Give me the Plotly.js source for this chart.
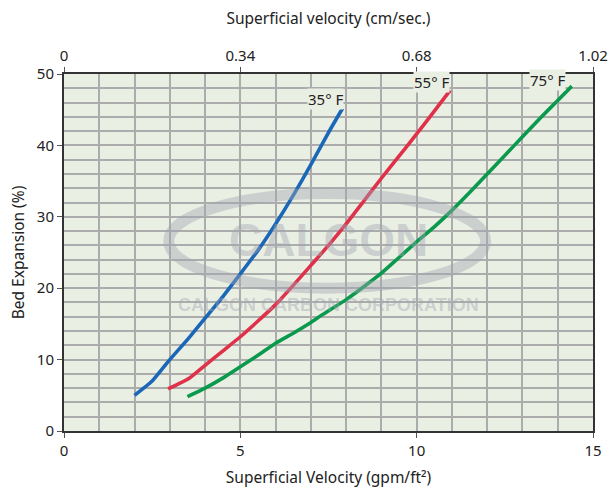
<!DOCTYPE html>
<html>
<head>
<meta charset="utf-8">
<script src="https://cdn.plot.ly/plotly-3.0.1.min.js"></script>
<style>html,body{margin:0;padding:0;background:#fff}#chart{width:608px;height:488px}</style>
</head>
<body>
<div id="chart"></div>
<script>
// Data
const blueX = [2.0, 2.5, 3.0, 3.5, 4.0, 4.5, 5.0, 5.5, 6.0, 6.5, 7.0, 7.5, 7.9];
const blueY = [5.0, 7.0, 10.0, 12.8, 15.8, 18.8, 22.0, 25.3, 29.0, 33.0, 37.3, 41.8, 45.2];
const redX = [2.95, 3.55, 4.0, 4.5, 5.0, 5.5, 6.0, 6.5, 7.0, 7.5, 8.0, 8.5, 9.0, 9.5, 10.0, 10.5, 10.95];
const redY = [5.9, 7.4, 9.2, 11.2, 13.2, 15.4, 17.7, 20.4, 23.2, 26.0, 29.0, 32.2, 35.4, 38.5, 41.6, 44.8, 47.7];
const greenX = [3.5, 4.0, 4.5, 5.0, 5.5, 6.0, 6.5, 7.0, 7.3, 8.0, 8.5, 9.0, 9.5, 10.0, 10.5, 11.0, 11.5, 12.0, 12.5, 13.0, 13.5, 14.0, 14.4];
const greenY = [4.8, 6.0, 7.4, 9.0, 10.6, 12.3, 13.7, 15.2, 16.2, 18.4, 20.2, 22.1, 24.3, 26.5, 28.6, 30.9, 33.4, 36.0, 38.6, 41.2, 43.8, 46.3, 48.3];
const seriesNames = ["35° F", "55° F", "75° F"];
const labelX = [7.42, 10.42, 13.72];
const labelY = [46.5, 48.9, 49.2];
const bottomTicks = [0, 5, 10, 15];
const topTicks = [0, 0.34, 0.68, 1.02];
const topTickText = ["0", "0.34", "0.68", "1.02"];
const yTicks = [0, 10, 20, 30, 40, 50];

const colors = ["#1b67b7", "#e0314a", "#0b9a4d"];
const font = "Noto Sans, Open Sans, sans-serif";
const bg = "#eaefe4";
const grid = "#acacac";
const wm = "rgba(160,165,178,0.42)";

const traces = [
  {x: blueX, y: blueY, color: colors[0], name: seriesNames[0]},
  {x: redX, y: redY, color: colors[1], name: seriesNames[1]},
  {x: greenX, y: greenY, color: colors[2], name: seriesNames[2]}
].map(s => ({
  type: "scatter", mode: "lines", x: s.x, y: s.y, name: s.name,
  line: {color: s.color, width: 3.6, shape: "spline", smoothing: 0.5},
  xaxis: "x", yaxis: "y", hoverinfo: "skip"
}));
// invisible trace so the top axis exists
traces.push({type: "scatter", mode: "markers", x: [0, 1.02], y: [0, 0], xaxis: "x2", yaxis: "y",
  marker: {opacity: 0}, hoverinfo: "skip", showlegend: false});

const annotations = seriesNames.map((t, i) => ({
  x: labelX[i], y: labelY[i], xref: "x", yref: "y", text: t, showarrow: false,
  font: {family: font, size: 15, color: "#222"}, bgcolor: bg, borderpad: 0
}));
annotations.push({
  x: 0.5, y: 0.535, xref: "paper", yref: "paper", text: "<b>CALGON</b>", showarrow: false,
  font: {family: "Liberation Sans, Arial, sans-serif", size: 46, color: wm}
});
annotations.push({
  x: 0.5, y: 0.353, xref: "paper", yref: "paper", text: "<b>CALGON CARBON CORPORATION</b>", showarrow: false,
  font: {family: "Liberation Sans, Arial, sans-serif", size: 18, color: wm}
});

const tickFont = {family: font, size: 15, color: "#222"};
const titleFont = {family: font, size: 15.5, color: "#222"};

const layout = {
  width: 608, height: 488,
  margin: {l: 64, r: 15, t: 74, b: 57},
  paper_bgcolor: "#ffffff", plot_bgcolor: bg,
  showlegend: false,
  xaxis: {
    range: [0, 15], tickvals: bottomTicks, ticks: "outside", ticklen: 5, tickcolor: "#555",
    showgrid: true, gridcolor: grid, gridwidth: 2,
    minor: {dtick: 1, showgrid: true, gridcolor: grid, gridwidth: 2},
    showline: true, linecolor: "#333", linewidth: 2, mirror: true, zeroline: false,
    tickfont: tickFont,
    title: {text: "Superficial Velocity (gpm/ft²)", font: titleFont, standoff: 20}
  },
  xaxis2: {
    overlaying: "x", side: "top", range: [0, 1.02], tickvals: topTicks, ticktext: topTickText,
    ticks: "outside", ticklen: 5, tickcolor: "#555", showgrid: false, zeroline: false,
    showline: true, linecolor: "#333", linewidth: 2,
    tickfont: tickFont,
    title: {text: "Superficial velocity (cm/sec.)", font: titleFont, standoff: 17}
  },
  yaxis: {
    range: [0, 50], tickvals: yTicks, ticks: "outside", ticklen: 5, tickcolor: "#555",
    showgrid: true, gridcolor: grid, gridwidth: 2,
    minor: {dtick: 2, showgrid: true, gridcolor: grid, gridwidth: 2},
    showline: true, linecolor: "#333", linewidth: 2, mirror: true, zeroline: false,
    tickfont: tickFont,
    title: {text: "Bed Expansion (%)", font: titleFont, standoff: 8}
  },
  shapes: [{
    type: "circle", xref: "paper", yref: "paper", x0: 0.198, x1: 0.797, y0: 0.40, y1: 0.665,
    line: {color: wm, width: 11}, fillcolor: "rgba(0,0,0,0)", layer: "above"
  }],
  annotations: annotations
};

Plotly.newPlot("chart", traces, layout, {staticPlot: true, displayModeBar: false});
</script>
</body>
</html>
